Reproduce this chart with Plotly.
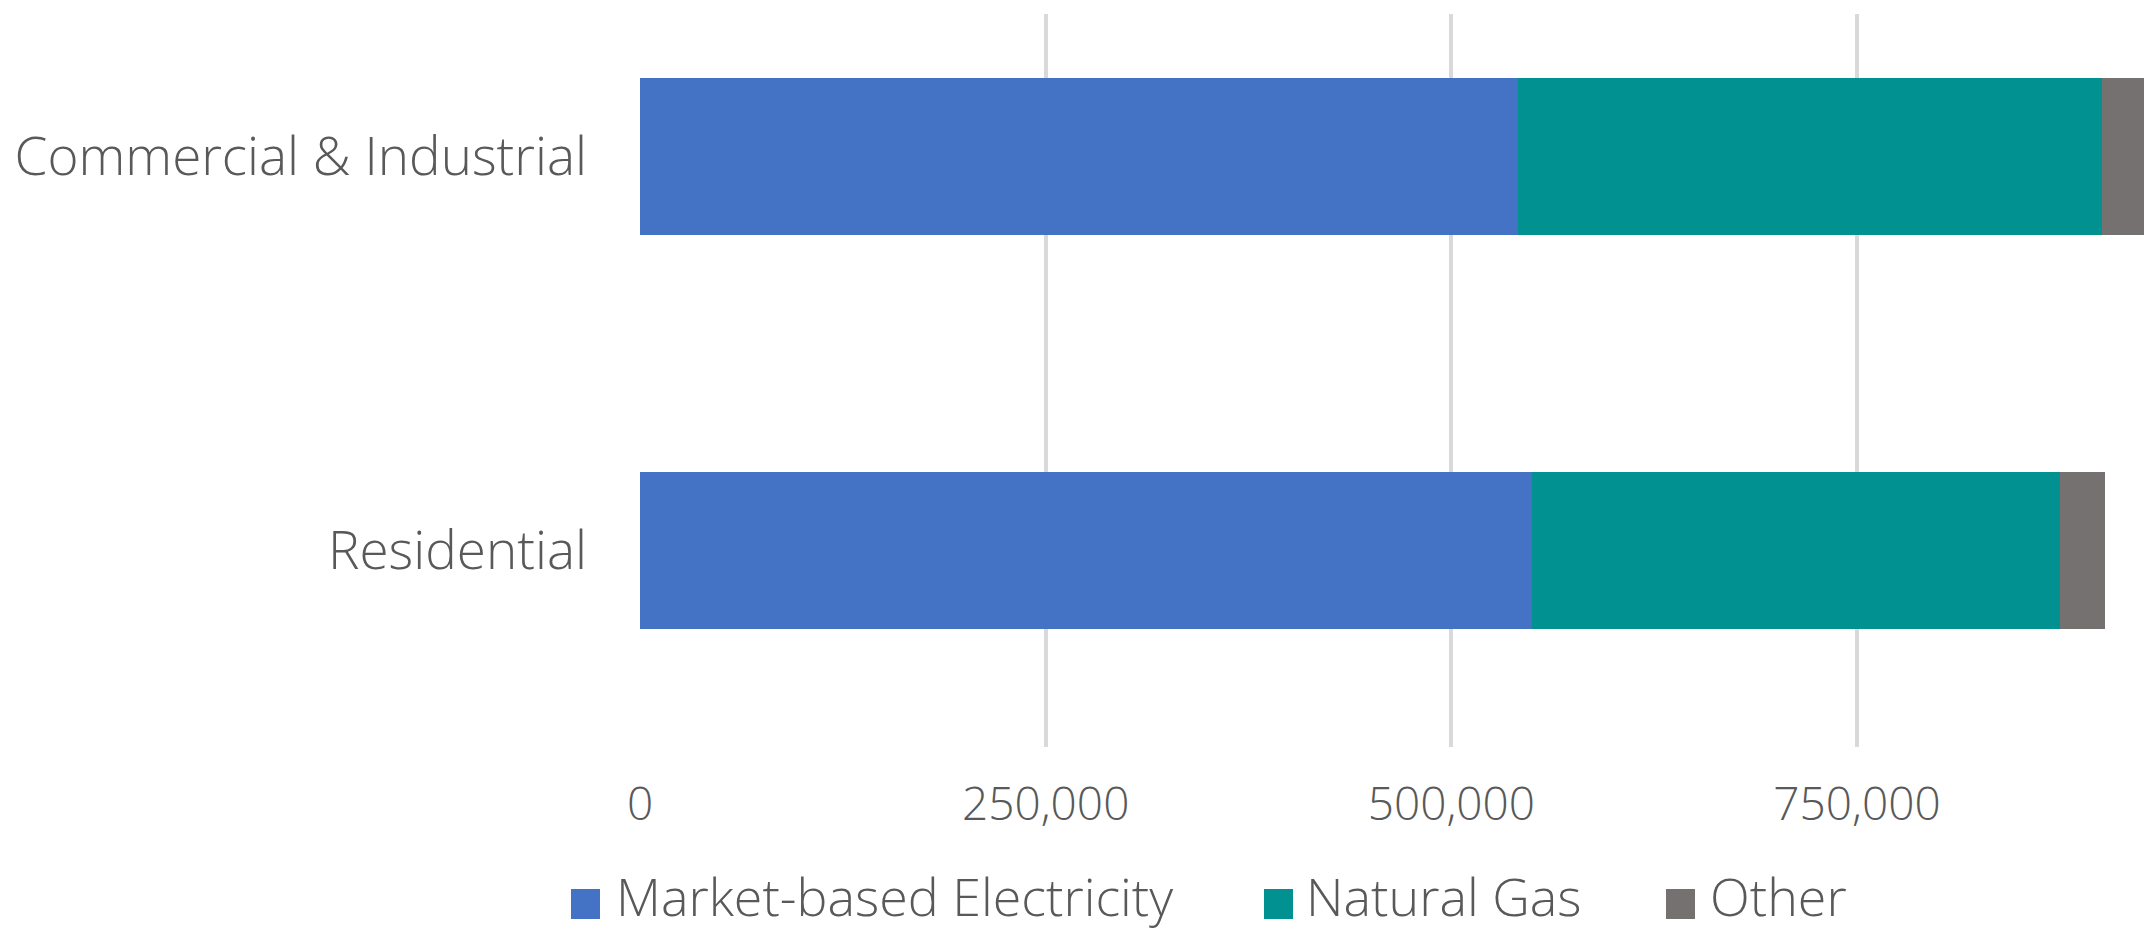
import plotly.graph_objects as go

# Emissions by sector and source
sectors = ["Residential", "Commercial & Industrial"]
series_names = ["Market-based Electricity", "Natural Gas", "Other"]
electricity = [550000, 541000]
natural_gas = [325000, 360000]
other = [28000, 30000]
series_values = [electricity, natural_gas, other]
series_colors = ["#4472C4", "#009190", "#767171"]
x_ticks = [0, 250000, 500000, 750000]
x_tick_labels = ["0", "250,000", "500,000", "750,000"]

W, H = 2144, 932
PLOT_L, PLOT_R, PLOT_T, PLOT_B = 640, 2144, 14, 747
TEXT = "#595959"
FONT = "Open Sans, Lato, sans-serif"
LIGHT = 300

fig = go.Figure()
for name, vals, col in zip(series_names, series_values, series_colors):
    fig.add_trace(go.Bar(
        y=sectors, x=vals, name=name, orientation="h",
        marker=dict(color=col, line=dict(width=0)),
        width=0.4, showlegend=False,
    ))


def px_to_paper_x(px):
    return (px - PLOT_L) / (PLOT_R - PLOT_L)


def px_to_paper_y(py):
    return (PLOT_B - py) / (PLOT_B - PLOT_T)


# Legend drawn as swatches + labels along the bottom
legend_items = [
    (series_names[0], series_colors[0], 571, 617),
    (series_names[1], series_colors[1], 1264, 1307),
    (series_names[2], series_colors[2], 1666, 1711),
]
shapes, annotations = [], []
for label, col, sx, tx in legend_items:
    shapes.append(dict(
        type="rect", xref="paper", yref="paper",
        x0=px_to_paper_x(sx), x1=px_to_paper_x(sx + 29),
        y0=px_to_paper_y(919), y1=px_to_paper_y(889),
        fillcolor=col, line=dict(width=0),
    ))
    annotations.append(dict(
        xref="paper", yref="paper", x=px_to_paper_x(tx - 3), y=px_to_paper_y(896),
        xanchor="left", yanchor="middle", showarrow=False, text=label,
        font=dict(family=FONT, size=52, color=TEXT, weight=LIGHT),
    ))

fig.update_layout(
    width=W, height=H,
    margin=dict(l=PLOT_L, r=W - PLOT_R, t=PLOT_T, b=H - PLOT_B, pad=0),
    barmode="stack",
    paper_bgcolor="white", plot_bgcolor="white",
    font=dict(family=FONT, color=TEXT),
    shapes=shapes, annotations=annotations,
    xaxis=dict(
        range=[0, 926850], tickvals=x_ticks, ticktext=x_tick_labels,
        showgrid=True, gridcolor="#D9D9D9", gridwidth=4,
        zeroline=False, showline=False, ticks="",
        tickfont=dict(family=FONT, size=46, color=TEXT, weight=LIGHT),
        ticklabelstandoff=26,
    ),
    yaxis=dict(
        range=[-0.5, 1.3626], showgrid=False, zeroline=False,
        showline=False, ticks="",
        tickfont=dict(family=FONT, size=53, color=TEXT, weight=LIGHT),
        ticklabelstandoff=52,
    ),
)

fig.write_html("out.html")
